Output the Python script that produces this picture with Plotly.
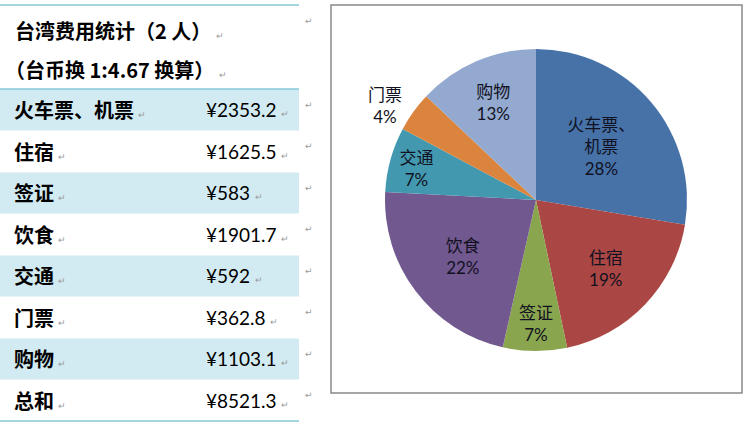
import plotly.graph_objects as go

# ---------------- data ----------------
title_line1 = "台湾费用统计（2 人）"
title_line2 = "（台币换 1:4.67 换算）"
categories = ["火车票、机票", "住宿", "签证", "饮食", "交通", "门票", "购物"]
values = [2353.2, 1625.5, 583, 1901.7, 592, 362.8, 1103.1]
total_label = "总和"
total_value = 8521.3
table_labels = categories + [total_label]
table_values = ["¥%g" % v for v in values] + ["¥%g" % total_value]

# ---------------- style ----------------
W, H = 745, 431
colors = ["#4672A8", "#AA4643", "#89A54E", "#71588F", "#4198AF", "#DB843D", "#93A9CF"]
band_color = "#D2EAF1"
rule_color = "#4BACC6"
frame_color = "#898989"
mark_color = "#9A9A9A"
cjk = "Noto Sans CJK SC"
num_font = "Lato, Noto Sans CJK SC"
MARK = ' <span style="font-size:9px;font-weight:normal;color:%s">↵</span>' % mark_color

fig = go.Figure()

# pie chart (placed on the right inside its frame)
pie_cx, pie_cy, pie_r = 536, 200, 151
pie_text = [c.replace("、", '、<br><span style="font-family:Lato, Noto Sans CJK SC">', 1) + "</span>"
            if "、" in c else c for c in categories]
textpos = ["outside" if v / sum(values) < 0.05 else "inside" for v in values]
fig.add_trace(go.Pie(
    labels=categories,
    values=values,
    text=pie_text,
    texttemplate='%{text}<br><span style="font-family:Lato">%{percent:.0%}</span>',
    textposition=textpos,
    insidetextorientation="horizontal",
    textfont=dict(family=cjk, size=17, color="#111122"),
    outsidetextfont=dict(family=cjk, size=17, color="#111122"),
    marker=dict(colors=colors, line=dict(width=0)),
    sort=False,
    direction="clockwise",
    rotation=0,
    showlegend=False,
    hoverinfo="label+value+percent",
    domain=dict(x=[(pie_cx - pie_r) / W, (pie_cx + pie_r) / W],
                y=[1 - (pie_cy + pie_r) / H, 1 - (pie_cy - pie_r) / H]),
))

shapes = []
annotations = []

# table geometry
tbl_x0, tbl_x1 = 0, 299
row_top, row_h = 89, 41.5

# top, header and bottom rules
n_rows = len(table_labels)
for yy in (5, row_top, row_top + n_rows * row_h):
    shapes.append(dict(type="line", x0=tbl_x0, x1=tbl_x1, y0=yy, y1=yy,
                       line=dict(color=rule_color, width=1)))

# banded rows
for i in range(n_rows):
    y0 = row_top + i * row_h
    if i % 2 == 0:
        shapes.append(dict(type="rect", x0=tbl_x0, x1=tbl_x1, y0=y0 + 0.5, y1=y0 + row_h,
                           fillcolor=band_color, line=dict(width=0), layer="below"))

# header text
annotations.append(dict(x=13, y=30, text="<b>" + title_line1 + "</b>" + MARK, xanchor="left", yanchor="middle",
                        font=dict(family=cjk, size=20, color="#000000")))
annotations.append(dict(x=3, y=69, text="<b>" + title_line2 + "</b>" + MARK, xanchor="left", yanchor="middle",
                        font=dict(family=cjk, size=20, color="#000000")))
annotations.append(dict(x=303, y=21, text="↵", xanchor="left", yanchor="middle",
                        font=dict(family="DejaVu Sans", size=9, color=mark_color)))

# rows
for i, (lab, val) in enumerate(zip(table_labels, table_values)):
    yc = row_top + (i + 0.5) * row_h
    annotations.append(dict(x=12, y=yc, text="<b>" + lab + "</b>" + MARK, xanchor="left", yanchor="middle",
                            font=dict(family=cjk, size=20, color="#000000")))
    annotations.append(dict(x=204, y=yc, text=val + MARK, xanchor="left", yanchor="middle",
                            font=dict(family=num_font, size=19, color="#000000")))
    annotations.append(dict(x=303, y=yc - 5, text="↵", xanchor="left", yanchor="middle",
                            font=dict(family="DejaVu Sans", size=9, color=mark_color)))

# chart frame
shapes.append(dict(type="rect", x0=331, x1=742, y0=5, y1=393,
                   line=dict(color=frame_color, width=1.5), fillcolor="rgba(0,0,0,0)"))

for a in annotations:
    a.update(xref="x", yref="y", showarrow=False)
for s in shapes:
    s.update(xref="x", yref="y")

fig.update_layout(
    width=W, height=H,
    margin=dict(l=0, r=0, t=0, b=0),
    paper_bgcolor="white",
    plot_bgcolor="rgba(0,0,0,0)",
    xaxis=dict(range=[0, W], visible=False, fixedrange=True),
    yaxis=dict(range=[H, 0], visible=False, fixedrange=True),
    shapes=shapes,
    annotations=annotations,
    uniformtext=dict(minsize=17, mode="show"),
)

fig.write_html("out.html")
